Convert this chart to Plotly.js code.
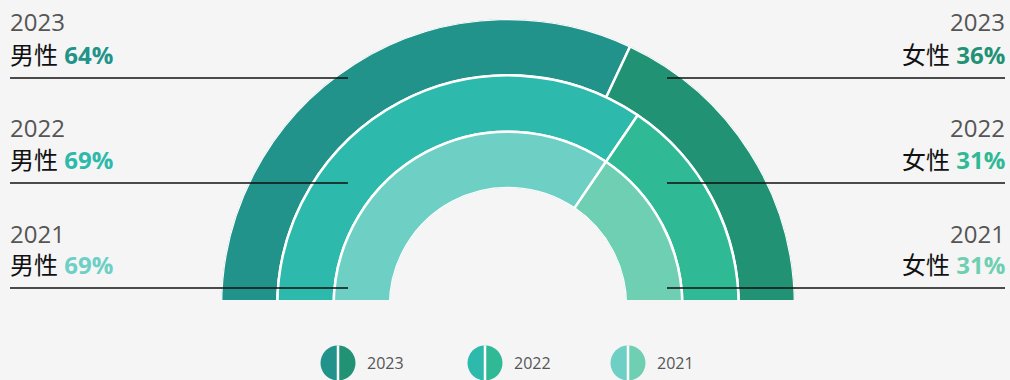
<!DOCTYPE html>
<html><head><meta charset="utf-8">
<script src="https://cdn.plot.ly/plotly-3.0.1.min.js"></script>
<style>html,body{margin:0;padding:0;background:#f5f5f5;}#chart{width:1010px;height:380px;}</style>
</head><body><div id="chart"></div>
<script>
const years = ['2023', '2022', '2021'];
const malePct = [64, 69, 69];
const femalePct = [36, 31, 31];
const genderLabels = ['男性', '女性'];
const maleColors = ['#22938a', '#2db9ab', '#6ecfc5'];
const femaleColors = ['#229275', '#2fb995', '#6fcfb2'];

const W = 1010, H = 380;
const cx = 508, cy = 306, R = 287, Rin = 118, cutY = 300;
const px = x => x / W, py = y => 1 - y / H;
const bg = '#f5f5f5';

const traces = [];
years.forEach((yr, i) => {
  const base = years.length - 1 - i;
  const mDeg = malePct[i] * 1.8, fDeg = femalePct[i] * 1.8;
  traces.push({type: 'barpolar', r: [1], base: [base], theta: [mDeg / 2], width: [mDeg],
    marker: {color: maleColors[i], line: {color: '#ffffff', width: 2.5}}, name: yr + genderLabels[0], hoverinfo: 'skip'});
  traces.push({type: 'barpolar', r: [1], base: [base], theta: [mDeg + fDeg / 2], width: [fDeg],
    marker: {color: femaleColors[i], line: {color: '#ffffff', width: 2.5}}, name: yr + genderLabels[1], hoverinfo: 'skip'});
});

const shapes = [], annotations = [];
// flat cut along the bottom of the half ring
shapes.push({type: 'rect', xref: 'paper', yref: 'paper', x0: px(cx - R - 6), x1: px(cx + R + 6), y0: py(cutY), y1: py(cy + 6),
  fillcolor: bg, line: {width: 0}, layer: 'above'});
const font = '"Open Sans", "Noto Sans CJK SC", sans-serif';
const rowY = [[22, 54, 78], [128, 159, 183], [233, 264, 288]];
years.forEach((yr, i) => {
  const [yy, gy, ly] = rowY[i];
  shapes.push({type: 'line', xref: 'paper', yref: 'paper', x0: px(10), x1: px(348), y0: py(ly), y1: py(ly), line: {color: '#111', width: 1.3}, layer: 'above'});
  shapes.push({type: 'line', xref: 'paper', yref: 'paper', x0: px(667), x1: px(1005), y0: py(ly), y1: py(ly), line: {color: '#111', width: 1.3}, layer: 'above'});
  annotations.push({xref: 'paper', yref: 'paper', x: px(8), y: py(yy), xanchor: 'left', yanchor: 'middle', showarrow: false,
    text: yr, font: {family: font, size: 24, color: '#555'}});
  annotations.push({xref: 'paper', yref: 'paper', x: px(8), y: py(gy), xanchor: 'left', yanchor: 'middle', showarrow: false,
    text: genderLabels[0] + ' <b><span style="color:' + maleColors[i] + '">' + malePct[i] + '%</span></b>', font: {family: font, size: 24, color: '#111'}});
  annotations.push({xref: 'paper', yref: 'paper', x: px(1007), y: py(yy), xanchor: 'right', yanchor: 'middle', showarrow: false,
    text: yr, font: {family: font, size: 24, color: '#555'}});
  annotations.push({xref: 'paper', yref: 'paper', x: px(1007), y: py(gy), xanchor: 'right', yanchor: 'middle', showarrow: false,
    text: genderLabels[1] + ' <b><span style="color:' + femaleColors[i] + '">' + femalePct[i] + '%</span></b>', font: {family: font, size: 24, color: '#111'}});
});

// legend icons: half circles
function half(r, side) {
  const k = 0.5523 * r, s = side;
  return 'M 0 ' + (-r) + ' C ' + (s * k) + ' ' + (-r) + ' ' + (s * r) + ' ' + (-k) + ' ' + (s * r) + ' 0' +
    ' C ' + (s * r) + ' ' + k + ' ' + (s * k) + ' ' + r + ' 0 ' + r + ' Z';
}
const legX = [338, 485, 628];
const legY = 363, legR = 17.5;
years.forEach((yr, i) => {
  const common = {type: 'path', xref: 'paper', yref: 'paper', xsizemode: 'pixel', ysizemode: 'pixel',
    xanchor: px(legX[i]), yanchor: py(legY), layer: 'above'};
  shapes.push(Object.assign({}, common, {path: half(legR, -1), fillcolor: maleColors[i], line: {width: 0}}));
  shapes.push(Object.assign({}, common, {path: half(legR, 1), fillcolor: femaleColors[i], line: {width: 0}}));
  shapes.push(Object.assign({}, common, {path: 'M 0 ' + (-legR) + ' L 0 ' + legR, line: {color: '#ffffff', width: 2.5}}));
  annotations.push({xref: 'paper', yref: 'paper', x: px(legX[i] + 27), y: py(legY), xanchor: 'left', yanchor: 'middle', showarrow: false,
    text: yr, font: {family: font, size: 16, color: '#555'}});
});

const layout = {
  width: W, height: H, margin: {l: 0, r: 0, t: 0, b: 0},
  paper_bgcolor: bg, plot_bgcolor: bg, showlegend: false,
  polar: {
    domain: {x: [px(cx - R), px(cx + R)], y: [py(cy), py(cy - R)]},
    sector: [0, 180], hole: Rin / R, bgcolor: 'rgba(0,0,0,0)', bargap: 0,
    radialaxis: {range: [0, 3], visible: false, showgrid: false},
    angularaxis: {rotation: 180, direction: 'clockwise', visible: false, showgrid: false, showline: false, ticks: ''}
  },
  shapes: shapes, annotations: annotations
};
Plotly.newPlot('chart', traces, layout, {staticPlot: true, displayModeBar: false});
</script></body></html>
